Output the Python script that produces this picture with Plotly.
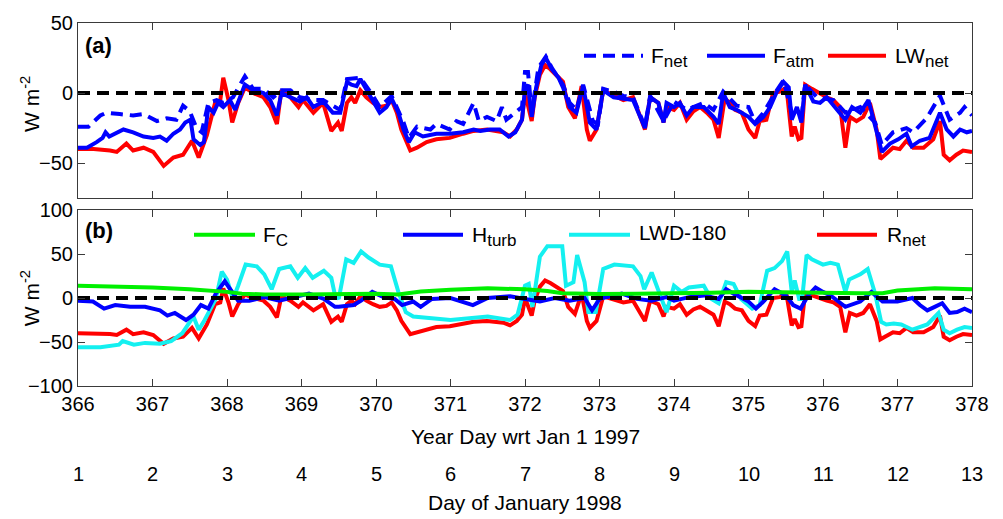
import plotly.graph_objects as go
from plotly.subplots import make_subplots

# ---------------- data ----------------
# (a) surface energy budget terms, W m-2, vs year day (wrt Jan 1 1997)
lw_net_day = [366.00, 366.21, 366.43, 366.52, 366.65, 366.74, 366.88, 367.01, 367.15, 367.28,
              367.41, 367.53, 367.62, 367.73, 367.84, 367.91, 367.95, 368.02, 368.07, 368.15,
              368.24, 368.35, 368.49, 368.58, 368.67, 368.73, 368.85, 368.96, 369.02, 369.16,
              369.29, 369.40, 369.49, 369.54, 369.61, 369.67, 369.72, 369.79, 369.87, 369.96,
              370.05, 370.14, 370.21, 370.28, 370.34, 370.46, 370.55, 370.68, 370.81, 370.99,
              371.17, 371.31, 371.49, 371.62, 371.71, 371.80, 371.89, 371.96, 372.00, 372.09,
              372.13, 372.20, 372.27, 372.34, 372.43, 372.51, 372.58, 372.67, 372.76, 372.83,
              372.87, 372.96, 373.05, 373.19, 373.32, 373.45, 373.61, 373.68, 373.79, 373.86,
              373.90, 374.00, 374.08, 374.17, 374.26, 374.35, 374.44, 374.53, 374.60, 374.68,
              374.75, 374.82, 374.91, 375.00, 375.09, 375.15, 375.24, 375.33, 375.42, 375.51,
              375.58, 375.62, 375.67, 375.71, 375.76, 375.85, 375.94, 376.05, 376.14, 376.23,
              376.30, 376.36, 376.45, 376.54, 376.63, 376.72, 376.77, 376.86, 376.94, 377.03,
              377.12, 377.21, 377.35, 377.48, 377.57, 377.62, 377.70, 377.79, 377.88, 378.00]
lw_net_val = [-40, -40, -41, -42, -36, -41, -39, -42, -52, -46,
              -44, -34, -46, -30, -7, -5, 11, -5, -21, -7,
              4, 0, -3, -10, -22, 2, -3, -10, -5, -14,
              -7, -27, -21, -27, -7, -3, -7, 2, -3, -7,
              -10, -9, -5, -14, -26, -41, -39, -35, -33, -32,
              -29, -27, -26, -27, -28, -31, -26, -19, 0, -20,
              -3, 13, 20, 17, 12, 8, -10, -18, 5, -26,
              -34, -26, 2, -2, -5, -3, -26, -3, -7, -21,
              -10, -12, -7, -19, -13, -10, -14, -19, -32, -4,
              -7, -12, -14, -26, -32, -20, -19, 0, 1, 4,
              -31, -24, -33, -32, 6, 3, 0, -3, -5, -10,
              -39, -17, -20, -17, -7, -26, -47, -43, -39, -40,
              -34, -39, -39, -33, -20, -44, -48, -44, -41, -42]

f_atm_day = [366.00, 366.12, 366.25, 366.33, 366.37, 366.42, 366.61, 366.74, 366.88, 367.01,
             367.10, 367.19, 367.28, 367.37, 367.44, 367.51, 367.55, 367.64, 367.69, 367.75,
             367.82, 367.88, 367.95, 368.04, 368.11, 368.17, 368.24, 368.35, 368.49, 368.58,
             368.67, 368.73, 368.85, 368.98, 369.07, 369.16, 369.29, 369.42, 369.52, 369.61,
             369.67, 369.74, 369.79, 369.87, 369.96, 370.05, 370.14, 370.21, 370.30, 370.37,
             370.44, 370.52, 370.63, 370.81, 370.99, 371.17, 371.31, 371.40, 371.53, 371.66,
             371.78, 371.87, 371.96, 372.00, 372.04, 372.09, 372.15, 372.22, 372.28, 372.36,
             372.45, 372.51, 372.60, 372.69, 372.78, 372.87, 372.96, 373.05, 373.19, 373.32,
             373.45, 373.61, 373.68, 373.79, 373.86, 373.90, 374.00, 374.08, 374.17, 374.26,
             374.40, 374.53, 374.60, 374.66, 374.75, 374.84, 375.00, 375.09, 375.20, 375.29,
             375.38, 375.47, 375.54, 375.58, 375.65, 375.71, 375.76, 375.87, 375.96, 376.05,
             376.16, 376.30, 376.39, 376.50, 376.61, 376.70, 376.79, 376.90, 377.01, 377.12,
             377.19, 377.30, 377.43, 377.57, 377.66, 377.75, 377.84, 377.93, 378.00]
f_atm_val = [-39, -39, -35, -32, -28, -31, -26, -28, -31, -32,
             -31, -34, -29, -26, -21, -19, -33, -37, -35, -10,
             -14, -7, -10, -5, -12, -3, 6, 2, 0, -5,
             -16, 0, -3, -6, -3, -10, -6, -14, -14, 8,
             6, 5, 10, 3, -5, -14, -10, -4, -14, -26,
             -35, -28, -31, -29, -29, -28, -26, -27, -26, -26,
             -31, -28, -19, 3, 6, -17, 4, 20, 25, 17,
             11, 4, -10, -14, 5, -21, -26, 2, -3, -4,
             -5, -25, -3, -7, -21, -7, -10, -7, -16, -10,
             -10, -17, -22, 0, -10, -12, -17, -22, -17, -10,
             1, 8, 4, -19, -10, -21, 6, -6, -7, -3,
             -10, -19, -10, -14, -5, -24, -42, -36, -33, -29,
             -38, -34, -32, -14, -26, -31, -26, -28, -27]

f_net_day = [366.00, 366.14, 366.30, 366.38, 366.56, 366.74, 366.88, 367.06, 367.19, 367.32,
             367.41, 367.50, 367.59, 367.66, 367.75, 367.86, 367.95, 368.08, 368.24, 368.35,
             368.49, 368.62, 368.73, 368.85, 368.98, 369.16, 369.29, 369.42, 369.52, 369.61,
             369.79, 369.96, 370.05, 370.21, 370.37, 370.44, 370.55, 370.73, 370.81, 370.99,
             371.08, 371.17, 371.31, 371.38, 371.49, 371.62, 371.69, 371.75, 371.87, 371.96,
             372.00, 372.04, 372.09, 372.18, 372.28, 372.36, 372.51, 372.60, 372.69, 372.78,
             372.91, 372.98, 373.05, 373.19, 373.32, 373.45, 373.61, 373.68, 373.86, 374.00,
             374.17, 374.40, 374.53, 374.66, 374.84, 375.00, 375.09, 375.20, 375.38, 375.47,
             375.58, 375.71, 375.76, 375.92, 376.14, 376.30, 376.50, 376.70, 376.79, 376.94,
             377.12, 377.21, 377.39, 377.57, 377.70, 377.84, 377.90, 378.00]
f_net_val = [-24, -24, -16, -14, -15, -16, -15, -20, -18, -19,
             -9, -13, -25, -28, -7, -5, -7, -3, 12, 3,
             3, -3, 2, 2, -3, -5, -5, -9, -12, 10,
             11, -2, -10, -2, -21, -32, -24, -26, -22, -26,
             -20, -22, -7, -20, -17, -20, -10, -19, -14, -10,
             15, 15, -14, 18, 26, 18, 6, -7, -12, 6,
             -20, -22, 3, 1, -2, -3, -24, -2, -20, -6,
             -12, -7, -12, 1, -9, -10, -21, -14, 2, 9,
             -14, -18, 6, -3, -5, -14, -10, -21, -37, -28,
             -25, -28, -18, -2, -19, -14, -10, -16]

# (b) components: conductive flux, turbulent flux, LWD-180, net radiation
f_c_day = [366.0, 366.5, 367.0, 367.5, 367.8, 368.0, 368.2, 368.5, 369.0, 369.5,
           370.0, 370.3, 370.6, 371.0, 371.5, 372.0, 372.3, 372.5, 373.0, 373.5,
           374.0, 374.5, 375.0, 375.5, 376.0, 376.5, 376.8, 377.0, 377.5, 378.0]
f_c_val = [14, 13.5, 12, 10, 8.5, 7, 5, 4, 4, 5,
           5, 4, 7.5, 9.5, 11, 10, 8, 5.5, 4.5, 5,
           5, 6, 7, 7, 6, 5.5, 5.5, 8.5, 11, 10]

h_turb_day = [366.00, 366.20, 366.35, 366.50, 366.70, 366.90, 367.10, 367.20, 367.30, 367.45,
              367.55, 367.65, 367.75, 367.85, 367.97, 368.05, 368.15, 368.30, 368.50, 368.70,
              368.90, 369.10, 369.30, 369.45, 369.50, 369.70, 369.80, 369.95, 370.10, 370.25,
              370.35, 370.50, 370.60, 370.75, 371.00, 371.30, 371.50, 371.80, 372.00, 372.20,
              372.40, 372.60, 372.80, 372.90, 373.00, 373.30, 373.50, 373.70, 373.90, 374.00,
              374.20, 374.40, 374.60, 374.70, 374.80, 375.00, 375.10, 375.20, 375.35, 375.50,
              375.60, 375.70, 375.80, 375.90, 376.00, 376.10, 376.30, 376.50, 376.65, 376.80,
              377.00, 377.20, 377.30, 377.40, 377.50, 377.60, 377.70, 377.80, 377.90, 378.00]
h_turb_val = [-3, -4, -12, -8, -10, -10, -14, -20, -17, -25,
              -19, -8, -12, 5, 19, 10, -3, -3, 1, -3,
              1, 5, -1, -10, -10, -8, -3, 7, 1, -1,
              -8, -4, -10, -1, 0, -8, 0, 2, -1, -4,
              0, -3, 0, -14, -1, 5, -1, -3, 1, -3,
              1, 3, -1, 10, 5, -4, -12, -4, 10, 3,
              -8, -12, 3, 12, 7, 3, -10, -4, 7, -4,
              -4, 0, -8, -14, -10, -6, -17, -16, -12, -16]

lwd180_day = [366.00, 366.30, 366.55, 366.60, 366.75, 366.90, 367.10, 367.25, 367.40, 367.55,
              367.62, 367.70, 367.85, 367.93, 368.00, 368.08, 368.15, 368.25, 368.40, 368.50,
              368.60, 368.70, 368.85, 368.95, 369.05, 369.15, 369.30, 369.40, 369.45, 369.50,
              369.60, 369.70, 369.80, 369.90, 370.05, 370.20, 370.30, 370.40, 370.50, 371.00,
              371.50, 371.80, 371.90, 372.00, 372.05, 372.10, 372.20, 372.30, 372.50, 372.55,
              372.65, 372.70, 372.80, 372.85, 372.95, 373.05, 373.20, 373.45, 373.55, 373.60,
              373.70, 373.80, 373.90, 374.00, 374.10, 374.20, 374.40, 374.50, 374.60, 374.70,
              374.80, 374.90, 375.05, 375.15, 375.25, 375.35, 375.45, 375.52, 375.58, 375.62,
              375.68, 375.72, 375.78, 375.85, 376.00, 376.10, 376.20, 376.30, 376.35, 376.50,
              376.60, 376.70, 376.78, 376.85, 376.95, 377.05, 377.20, 377.40, 377.55, 377.62,
              377.70, 377.80, 377.90, 378.00]
lwd180_val = [-56, -56, -53, -49, -53, -51, -52, -49, -40, -21,
              -36, -25, -1, 30, 21, -1, 14, 38, 36, 27,
              10, 33, 36, 23, 34, 23, 31, 23, 3, -1,
              44, 40, 53, 46, 38, 36, 7, -16, -21, -25,
              -21, -25, -19, 14, 16, -10, 47, 59, 59, 14,
              18, 49, 18, -16, -16, 33, 38, 36, 25, 10,
              29, 7, -16, 14, 7, 12, 14, -1, -6, 18,
              16, -1, -12, -8, 31, 34, 42, 53, 7, 20,
              -1, -1, 49, 44, 38, 40, 38, 7, 21, 27,
              33, 5, -27, -30, -29, -30, -36, -30, -17, -36,
              -40, -36, -33, -34]

# net radiation equals net longwave during the polar night
r_net_day = lw_net_day
r_net_val = lw_net_val

year_day_ticks = list(range(366, 379))
jan_1998_days = [str(d - 365) for d in year_day_ticks]
zero_line_x = [366, 378]
zero_line_y = [0, 0]


def sub(base, low):
    return f"{base}<sub><span style='font-size:17px'>{low}</span></sub>"


top_names = [sub("F", "net"), sub("F", "atm"), sub("LW", "net")]
bottom_names = [sub("F", "C"), sub("H", "turb"), "LWD-180", sub("R", "net")]

# ---------------- styling ----------------
FONT = "Arial, 'Liberation Sans', Helvetica, sans-serif"
RED = "#FF0000"
BLUE = "#0000FF"
CYAN = "#14F0F0"
GREEN = "#00F000"
LW = 4
DASH = "12px,7px"

W, H = 1003, 519
L, R, T, B = 78, 972, 14, 386          # plot-area pixel box
PW, PH = R - L, B - T


def px(x):
    return (x - L) / PW


def py(y):
    return (B - y) / PH


fig = make_subplots(rows=2, cols=1, shared_xaxes=False, vertical_spacing=0.03)

# panel (a)
fig.add_trace(go.Scatter(x=lw_net_day, y=lw_net_val, mode="lines",
                         line=dict(color=RED, width=LW)), row=1, col=1)
fig.add_trace(go.Scatter(x=f_atm_day, y=f_atm_val, mode="lines",
                         line=dict(color=BLUE, width=LW)), row=1, col=1)
fig.add_trace(go.Scatter(x=f_net_day, y=f_net_val, mode="lines",
                         line=dict(color=BLUE, width=LW, dash=DASH)), row=1, col=1)
fig.add_trace(go.Scatter(x=zero_line_x, y=zero_line_y, mode="lines",
                         line=dict(color="black", width=LW, dash=DASH)), row=1, col=1)

# panel (b)
fig.add_trace(go.Scatter(x=r_net_day, y=r_net_val, mode="lines",
                         line=dict(color=RED, width=LW)), row=2, col=1)
fig.add_trace(go.Scatter(x=lwd180_day, y=lwd180_val, mode="lines",
                         line=dict(color=CYAN, width=LW)), row=2, col=1)
fig.add_trace(go.Scatter(x=h_turb_day, y=h_turb_val, mode="lines",
                         line=dict(color=BLUE, width=LW)), row=2, col=1)
fig.add_trace(go.Scatter(x=f_c_day, y=f_c_val, mode="lines",
                         line=dict(color=GREEN, width=LW)), row=2, col=1)
fig.add_trace(go.Scatter(x=zero_line_x, y=zero_line_y, mode="lines",
                         line=dict(color="black", width=LW, dash=DASH)), row=2, col=1)

axis_common = dict(showline=True, linecolor="#3a3a3a", linewidth=1, mirror="ticks",
                   ticks="inside", ticklen=7, tickcolor="#3a3a3a", showgrid=False,
                   zeroline=False, tickfont=dict(family=FONT, size=20, color="black"))

fig.update_xaxes(range=[366, 378], tickvals=year_day_ticks, **axis_common)
fig.update_xaxes(showticklabels=False, row=1, col=1)
fig.update_xaxes(ticktext=[str(v) for v in year_day_ticks], row=2, col=1)

fig.update_yaxes(range=[-75, 50], tickvals=[-50, 0, 50], domain=[py(193.5), 1],
                 row=1, col=1, **axis_common)
fig.update_yaxes(range=[-100, 100], tickvals=[-100, -50, 0, 50, 100],
                 domain=[0, py(205.7)], row=2, col=1, **axis_common)
fig.update_xaxes(domain=[0, 1])

annotations = []
text_font = dict(family=FONT, size=21, color="black")

# panel tags
annotations.append(dict(x=px(83), y=py(37), xref="paper", yref="paper", text="<b>(a)</b>",
                        showarrow=False, xanchor="left", yanchor="middle",
                        font=dict(family=FONT, size=22, color="black")))
annotations.append(dict(x=px(83), y=py(227), xref="paper", yref="paper", text="<b>(b)</b>",
                        showarrow=False, xanchor="left", yanchor="middle",
                        font=dict(family=FONT, size=22, color="black")))

# y-axis titles
for yc in (97, 296):
    annotations.append(dict(x=px(30), y=py(yc), xref="paper", yref="paper",
                            text="W m<sup>-2</sup>", textangle=-90, showarrow=False,
                            xanchor="center", yanchor="middle", font=text_font))

# x-axis titles and second row of day labels
annotations.append(dict(x=0.5, y=py(438), xref="paper", yref="paper",
                        text="Year Day wrt Jan 1 1997", showarrow=False,
                        xanchor="center", yanchor="middle", font=text_font))
for xv, lab in zip(year_day_ticks, jan_1998_days):
    annotations.append(dict(x=xv, y=py(476), xref="x2", yref="paper", text=lab,
                            showarrow=False, xanchor="center", yanchor="middle",
                            font=dict(family=FONT, size=20, color="black")))
annotations.append(dict(x=0.5, y=py(505), xref="paper", yref="paper",
                        text="Day of January 1998", showarrow=False,
                        xanchor="center", yanchor="middle", font=text_font))

# legends (line samples + labels)
shapes = []
top_legend = [(584, 643, 649, BLUE, DASH), (707, 765, 771, BLUE, "solid"),
              (828, 886, 893, RED, "solid")]
for (x0, x1, xt, col, dash), name in zip(top_legend, top_names):
    shapes.append(dict(type="line", xref="paper", yref="paper", x0=px(x0), x1=px(x1),
                       y0=py(47.5), y1=py(47.5), line=dict(color=col, width=4, dash=dash)))
    annotations.append(dict(x=px(xt), y=py(49), xref="paper", yref="paper", text=name,
                            showarrow=False, xanchor="left", yanchor="middle", font=text_font))

bottom_legend = [(194, 255, 261, GREEN), (403, 463, 470, BLUE), (569, 630, 637, CYAN),
                 (817, 877, 885, RED)]
for (x0, x1, xt, col), name in zip(bottom_legend, bottom_names):
    shapes.append(dict(type="line", xref="paper", yref="paper", x0=px(x0), x1=px(x1),
                       y0=py(231), y1=py(231), line=dict(color=col, width=4)))
    annotations.append(dict(x=px(xt), y=py(233 if "sub" in name else 229), xref="paper",
                            yref="paper", text=name, showarrow=False, xanchor="left",
                            yanchor="middle", font=text_font))

fig.update_layout(width=W, height=H, autosize=False,
                  margin=dict(l=L, r=W - R, t=T, b=H - B, pad=0),
                  paper_bgcolor="white", plot_bgcolor="white", showlegend=False,
                  annotations=annotations, shapes=shapes,
                  font=dict(family=FONT, size=20, color="black"))

fig.write_html("out.html")
